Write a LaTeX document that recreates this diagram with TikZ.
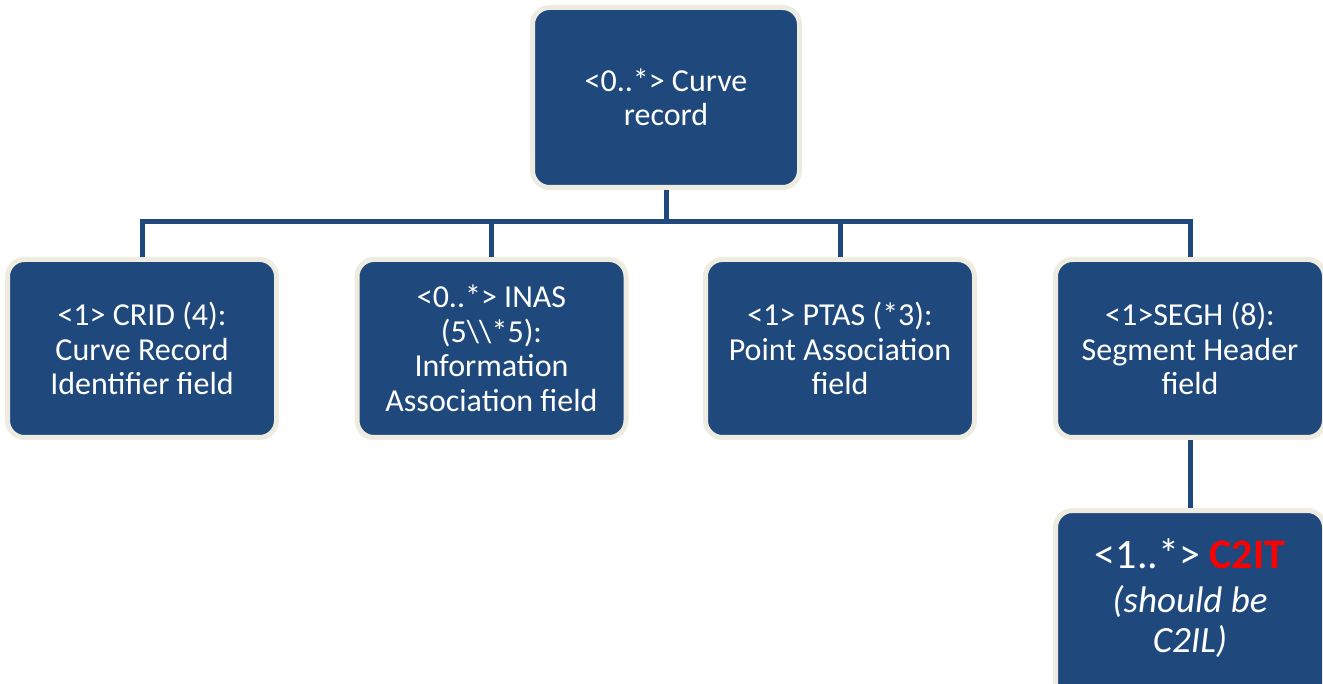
\documentclass[tikz,border=0pt]{standalone}
\usepackage{fontspec}
\setmainfont{Carlito}
\definecolor{boxblue}{RGB}{31,73,125}
\definecolor{boxrim}{RGB}{238,236,225}
\definecolor{errred}{RGB}{255,0,0}
\tikzset{
  box/.style={draw=boxrim, fill=boxblue, line width=5pt, rounded corners=17pt,
    minimum width=269pt, minimum height=178pt, text=white, align=center,
    font=\fontsize{32pt}{34.5pt}\selectfont, inner sep=0pt},
  conn/.style={draw=boxblue, line width=5pt}
}
\begin{document}
\begin{tikzpicture}[x=1pt,y=-1pt]
\useasboundingbox (0,0) rectangle (1323,684);
\begin{scope}
\clip (0,0) rectangle (1323,684);
\node[box, minimum width=267pt, minimum height=180pt] (top) at (666,97.5) {<0..*> Curve\\record};
\node[box] (crid) at (142,348.5) {<1> CRID (4):\\Curve Record\\Identifier field};
\node[box] (inas) at (491.5,348.5) {<0..*> INAS\\(5\textbackslash\textbackslash*5):\\Information\\Association field};
\node[box] (ptas) at (840,348.5) {<1> PTAS (*3):\\Point Association\\field};
\node[box] (segh) at (1190,348.5) {<1>SEGH (8):\\Segment Header\\field};
\node[box, minimum height=200pt] (c2it) at (1190,610.5) {};
\node[text=white, align=center, inner sep=0pt, font=\fontsize{37pt}{40pt}\selectfont, anchor=base] (c2ittext) at (1190,652)
  {{\fontsize{42pt}{44pt}\selectfont <1..*> {\bfseries\color{errred}C2IT}}\\[4pt]{\itshape (should be}\\{\itshape C2IL)}};
\coordinate (bus) at (666,222);
\draw[conn] (top.south) -- (bus);
\draw[conn] (crid.north) |- (bus);
\draw[conn] (inas.north) |- (bus);
\draw[conn] (ptas.north) |- (bus);
\draw[conn] (segh.north) |- (bus);
\draw[conn] (segh.south) -- (c2it.north);
\end{scope}
\end{tikzpicture}
\end{document}
